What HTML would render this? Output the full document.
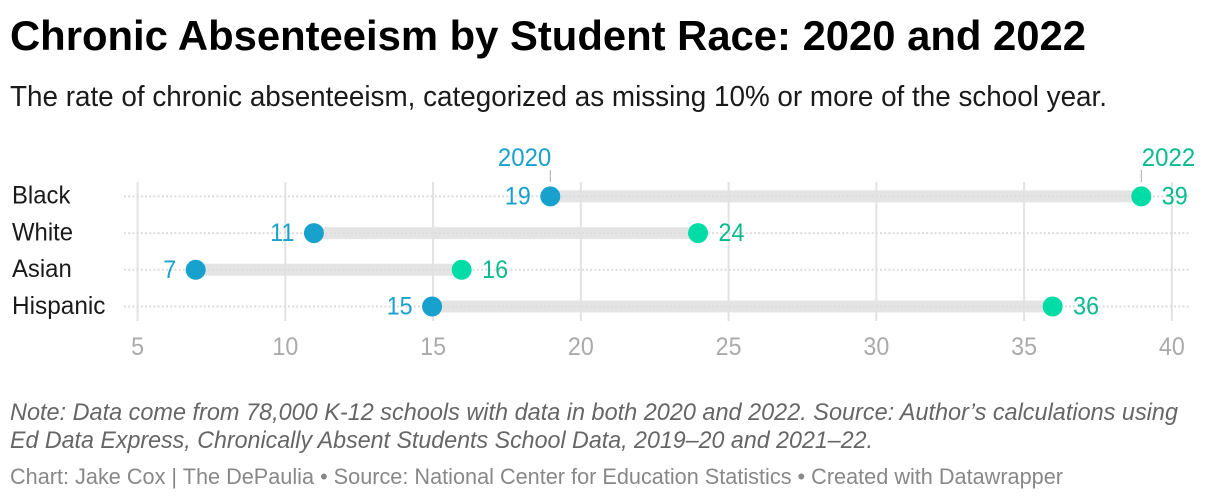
<!DOCTYPE html>
<html lang="en">
<head>
<meta charset="utf-8">
<title>Chronic Absenteeism by Student Race: 2020 and 2022</title>
<style>
html,body{margin:0;padding:0;background:#fff;width:1220px;height:500px;overflow:hidden}
svg{display:block;font-family:"Liberation Sans",sans-serif}
</style>
</head>
<body>
<svg id="chart" width="1220" height="500" viewBox="0 0 1220 500" xmlns="http://www.w3.org/2000/svg">
  <text x="10" y="50" font-size="42" font-weight="700" fill="#000" textLength="1076" lengthAdjust="spacingAndGlyphs">Chronic Absenteeism by Student Race: 2020 and 2022</text>
  <text x="10" y="106" font-size="29" fill="#1a1a1a" textLength="1097" lengthAdjust="spacingAndGlyphs">The rate of chronic absenteeism, categorized as missing 10% or more of the school year.</text>
  <g id="plot"></g>
  <text x="10" y="420" font-size="24.5" font-style="italic" fill="#666" textLength="1168" lengthAdjust="spacingAndGlyphs">Note: Data come from 78,000 K-12 schools with data in both 2020 and 2022. Source: Author’s calculations using</text>
  <text x="10" y="448" font-size="24.5" font-style="italic" fill="#666" textLength="863" lengthAdjust="spacingAndGlyphs">Ed Data Express, Chronically Absent Students School Data, 2019–20 and 2021–22.</text>
  <text x="10" y="484" font-size="22" fill="#888" textLength="1053" lengthAdjust="spacingAndGlyphs">Chart: Jake Cox | The DePaulia • Source: National Center for Education Statistics • Created with Datawrapper</text>
</svg>
<script>
const categories = ['Black', 'White', 'Asian', 'Hispanic'];
const values2020 = [19, 11, 7, 15];
const values2022 = [39, 24, 16, 36];
const tickValues = [5, 10, 15, 20, 25, 30, 35, 40];
const seriesNames = ['2020', '2022'];

const NS = 'http://www.w3.org/2000/svg';
const plot = document.getElementById('plot');
const BLUE = '#18a1cd';
const GREEN = '#00dca6';
const GREEN_TEXT = '#09bb8f';

function gridX(v) { return 137.6 + (v - 5) * 29.55; }
function xScale(v) { return gridX(v) - 1; }
function yScale(i) { return 196.4 + i * 36.7; }
function make(tag, attrs, text) {
  const el = document.createElementNS(NS, tag);
  for (const k in attrs) el.setAttribute(k, attrs[k]);
  if (text !== undefined) el.textContent = text;
  plot.appendChild(el);
  return el;
}
function condense(el, factor) {
  el.setAttribute('textLength', el.getComputedTextLength() * factor);
  el.setAttribute('lengthAdjust', 'spacingAndGlyphs');
}

categories.forEach(function (c, i) {
  const bar = make('line', {x1: xScale(values2020[i]), x2: xScale(values2022[i]), y1: yScale(i), y2: yScale(i), stroke: '#e4e4e4', 'stroke-width': 12});
  
  
});

tickValues.forEach(function (t) {
  const grid = make('line', {x1: gridX(t), x2: gridX(t), y1: 182, y2: 321, stroke: '#e2e2e2', 'stroke-width': 2});
  
  
  const label = make('text', {x: gridX(t), y: 355, 'font-size': 25, fill: '#aaaaaa', 'text-anchor': 'middle'}, String(t));
  
  
  condense(label, 0.93);
});

categories.forEach(function (c, i) {
  const y = yScale(i);
  const dotted = make('line', {x1: 124, x2: 1190, y1: y, y2: y, stroke: '#dcdcdc', 'stroke-width': 2, 'stroke-dasharray': '2 2.2'});
  
  

  const rowLabel = make('text', {x: 12, y: y + 7.3, 'font-size': 25, fill: '#1a1a1a'}, c);
  
  
  condense(rowLabel, c.length > 5 ? 0.975 : 0.955);

  const a = xScale(values2020[i]);
  const b = xScale(values2022[i]);

  const dotA = make('circle', {cx: a, cy: y, r: 10, fill: BLUE});
  
  
  const dotB = make('circle', {cx: b, cy: y, r: 10, fill: GREEN});
  
  

  const valA = make('text', {x: a - 19.5, y: y + 8, 'font-size': 25, fill: BLUE, 'text-anchor': 'end'}, String(values2020[i]));
  
  
  condense(valA, 0.93);
  const valB = make('text', {x: b + 20.5, y: y + 8, 'font-size': 25, fill: GREEN_TEXT}, String(values2022[i]));
  
  
  condense(valB, 0.93);
});

const tickA = make('line', {x1: xScale(values2020[0]), x2: xScale(values2020[0]), y1: 170, y2: 182, stroke: '#aaaaaa', 'stroke-width': 1});


const tickB = make('line', {x1: xScale(values2022[0]), x2: xScale(values2022[0]), y1: 170, y2: 182, stroke: '#aaaaaa', 'stroke-width': 1});



const seriesA = make('text', {x: xScale(values2020[0]) + 1, y: 166, 'font-size': 25, fill: BLUE, 'text-anchor': 'end'}, seriesNames[0]);


condense(seriesA, 0.96);
const seriesB = make('text', {x: xScale(values2022[0]) + 0.5, y: 166, 'font-size': 25, fill: GREEN_TEXT}, seriesNames[1]);


condense(seriesB, 0.96);
</script>
</body>
</html>
